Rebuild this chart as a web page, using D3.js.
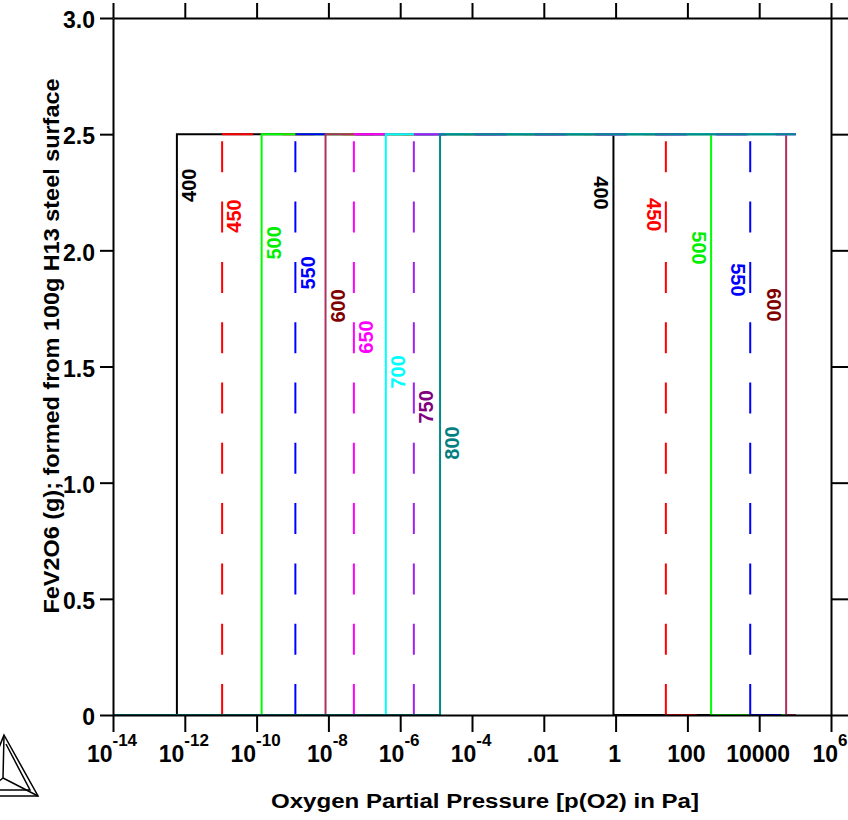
<!DOCTYPE html>
<html>
<head>
<meta charset="utf-8">
<script src="https://cdn.jsdelivr.net/npm/d3@7"></script>
<style>
  html, body { margin: 0; padding: 0; background: #fff; }
  svg { display: block; font-family: "Liberation Sans", Arial, Helvetica, sans-serif; font-weight: bold; }
</style>
</head>
<body>
<svg id="chart" width="848" height="820"></svg>
<script>
// ---- data ----
const temperatures = [400, 450, 500, 550, 600, 650, 700, 750, 800];
// log10(pO2 / Pa) at which FeV2O6 appears (left step up)
const onsetLogP = [-12.22, -10.96, -9.86, -8.92, -8.08, -7.29, -6.40, -5.62, -4.89];
// log10(pO2 / Pa) at which FeV2O6 disappears (right step down); null = stays to end of range
const endLogP = [-0.06, 1.40, 2.66, 3.75, 4.75, null, null, null, null];
const plateauValue = [2.5, 2.5, 2.5, 2.5, 2.5, 2.5, 2.5, 2.5, 2.5];
const rangeLogP = [-14, 5.02];
const lineColors = ["#000000", "#ff0000", "#00ff00", "#0000ff", "#b03060", "#ff00ff", "#00ffff", "#a020f0", "#008b8b"];
const labelColors = ["#000000", "#ff0000", "#00ee00", "#0000ff", "#800000", "#ff00ff", "#00ffff", "#800080", "#008080"];
const dashed = [false, true, false, true, false, true, false, true, false];
// label heights (value units) for the left and right step labels
const leftLabelAt = [2.28, 2.148, 2.032, 1.903, 1.761, 1.627, 1.477, 1.326, 1.171];
const rightLabelAt = [2.247, 2.153, 2.01, 1.873, 1.765, null, null, null, null];
const xTickExp = [-14, -12, -10, -8, -6, -4, -2, 0, 2, 4, 6];
const xTickText = [["10","-14"],["10","-12"],["10","-10"],["10","-8"],["10","-6"],["10","-4"],[".01",""],["1",""],["100",""],["10000",""],["10","6"]];
const yTicks = [0, 0.5, 1.0, 1.5, 2.0, 2.5, 3.0];
const yTickText = ["0", "0.5", "1.0", "1.5", "2.0", "2.5", "3.0"];
const xTitle = "Oxygen Partial Pressure [p(O2) in Pa]";
const yTitle = "FeV2O6 (g); formed from 100g H13 steel surface";

// ---- layout ----
const svg = d3.select("#chart");
const L = 113, R = 831, T = 18, B = 715;
const x = d3.scaleLog().domain([1e-14, 1e6]).range([L, R]);
const y = d3.scaleLinear().domain([0, 3]).range([B, T]);
const DASH = "31,29.3";

// ---- series ----
const line = d3.line().x(d => x(d[0])).y(d => y(d[1]));
temperatures.forEach((t, i) => {
  const p0 = Math.pow(10, rangeLogP[0]);
  const pEnd = Math.pow(10, rangeLogP[1]);
  const pOn = Math.pow(10, onsetLogP[i]);
  const v = plateauValue[i];
  const pts = [[p0, 0], [pOn, 0], [pOn, v]];
  if (endLogP[i] !== null) {
    const pOff = Math.pow(10, endLogP[i]);
    pts.push([pOff, v], [pOff, 0], [pEnd, 0]);
  } else {
    pts.push([pEnd, v]);
  }
  if (!dashed[i]) {
    svg.append("path").attr("d", line(pts))
      .attr("fill", "none").attr("stroke", lineColors[i]).attr("stroke-width", 2);
  } else {
    // each segment drawn on its own so the dash pattern restarts at every corner;
    // vertical segments are drawn from the baseline upward
    for (let k = 0; k < pts.length - 1; k++) {
      let a = pts[k], b = pts[k + 1];
      if (a[0] === b[0] && a[1] > b[1]) { const tmp = a; a = b; b = tmp; }
      svg.append("path").attr("d", line([a, b]))
        .attr("fill", "none").attr("stroke", lineColors[i]).attr("stroke-width", 2)
        .attr("stroke-dasharray", DASH);
    }
  }
});

// ---- step labels ----
temperatures.forEach((t, i) => {
  const xl = x(Math.pow(10, onsetLogP[i])) + 12;
  const yl = y(leftLabelAt[i]);
  svg.append("text")
    .attr("transform", `translate(${xl},${yl}) rotate(-90)`)
    .attr("text-anchor", "middle").attr("dy", "0.36em")
    .attr("font-size", 20).attr("fill", labelColors[i])
    .text(t);
  if (endLogP[i] !== null && rightLabelAt[i] !== null) {
    const xr = x(Math.pow(10, endLogP[i])) - 12;
    const yr = y(rightLabelAt[i]);
    svg.append("text")
      .attr("transform", `translate(${xr},${yr}) rotate(90)`)
      .attr("text-anchor", "middle").attr("dy", "0.36em")
      .attr("font-size", 20).attr("fill", labelColors[i])
      .text(t);
  }
});

// ---- axes ----
const xVals = xTickExp.map(e => Math.pow(10, e));
const axStyle = g => {
  g.select(".domain").attr("stroke", "#000").attr("stroke-width", 2);
  g.selectAll(".tick line").attr("stroke", "#000").attr("stroke-width", 2);
  g.selectAll(".tick text").remove();
};
svg.append("g").attr("transform", `translate(0,${B})`)
  .call(d3.axisBottom(x).tickValues(xVals).tickSize(17).tickSizeOuter(0).tickFormat(""))
  .call(axStyle);
svg.append("g").attr("transform", `translate(0,${T})`)
  .call(d3.axisTop(x).tickValues(xVals).tickSize(15).tickSizeOuter(0).tickFormat(""))
  .call(axStyle);
svg.append("g").attr("transform", `translate(${L},0)`)
  .call(d3.axisLeft(y).tickValues(yTicks).tickSize(13).tickSizeOuter(0).tickFormat(""))
  .call(axStyle);
svg.append("g").attr("transform", `translate(${R},0)`)
  .call(d3.axisRight(y).tickValues(yTicks).tickSize(17).tickSizeOuter(0).tickFormat(""))
  .call(axStyle);

// x tick labels
xVals.forEach((v, i) => {
  const [base, sup] = xTickText[i];
  const tx = svg.append("text")
    .attr("x", x(v) - 1).attr("y", 762)
    .attr("text-anchor", "middle").attr("font-size", 23).attr("fill", "#000");
  tx.append("tspan").text(base);
  if (sup) tx.append("tspan").attr("font-size", 17).attr("dy", -16).text(sup);
});
// y tick labels
yTicks.forEach((v, i) => {
  svg.append("text")
    .attr("x", 95).attr("y", y(v) + 2).attr("dy", "0.36em")
    .attr("text-anchor", "end").attr("font-size", 23).attr("fill", "#000")
    .text(yTickText[i]);
});

// titles
svg.append("text").attr("x", 485).attr("y", 808)
  .attr("text-anchor", "middle").attr("font-size", 20).attr("fill", "#000")
  .attr("textLength", 428).attr("lengthAdjust", "spacingAndGlyphs")
  .text(xTitle);
svg.append("text").attr("transform", "translate(59,346) rotate(-90)")
  .attr("text-anchor", "middle").attr("font-size", 22).attr("fill", "#000")
  .attr("textLength", 535).attr("lengthAdjust", "spacingAndGlyphs")
  .text(yTitle);

// logo (triangle mark, bottom-left)
const logo = svg.append("g").attr("fill", "none").attr("stroke", "#000").attr("stroke-width", 1.5);
logo.append("path").attr("d", "M4,735 L38,796 L-20,796 Z");
logo.append("path").attr("d", "M6,744 L30,790 L-14,790");
logo.append("path").attr("d", "M4,735 L3,778 L38,796");
logo.append("path").attr("d", "M3,778 L-20,796");
</script>
</body>
</html>
